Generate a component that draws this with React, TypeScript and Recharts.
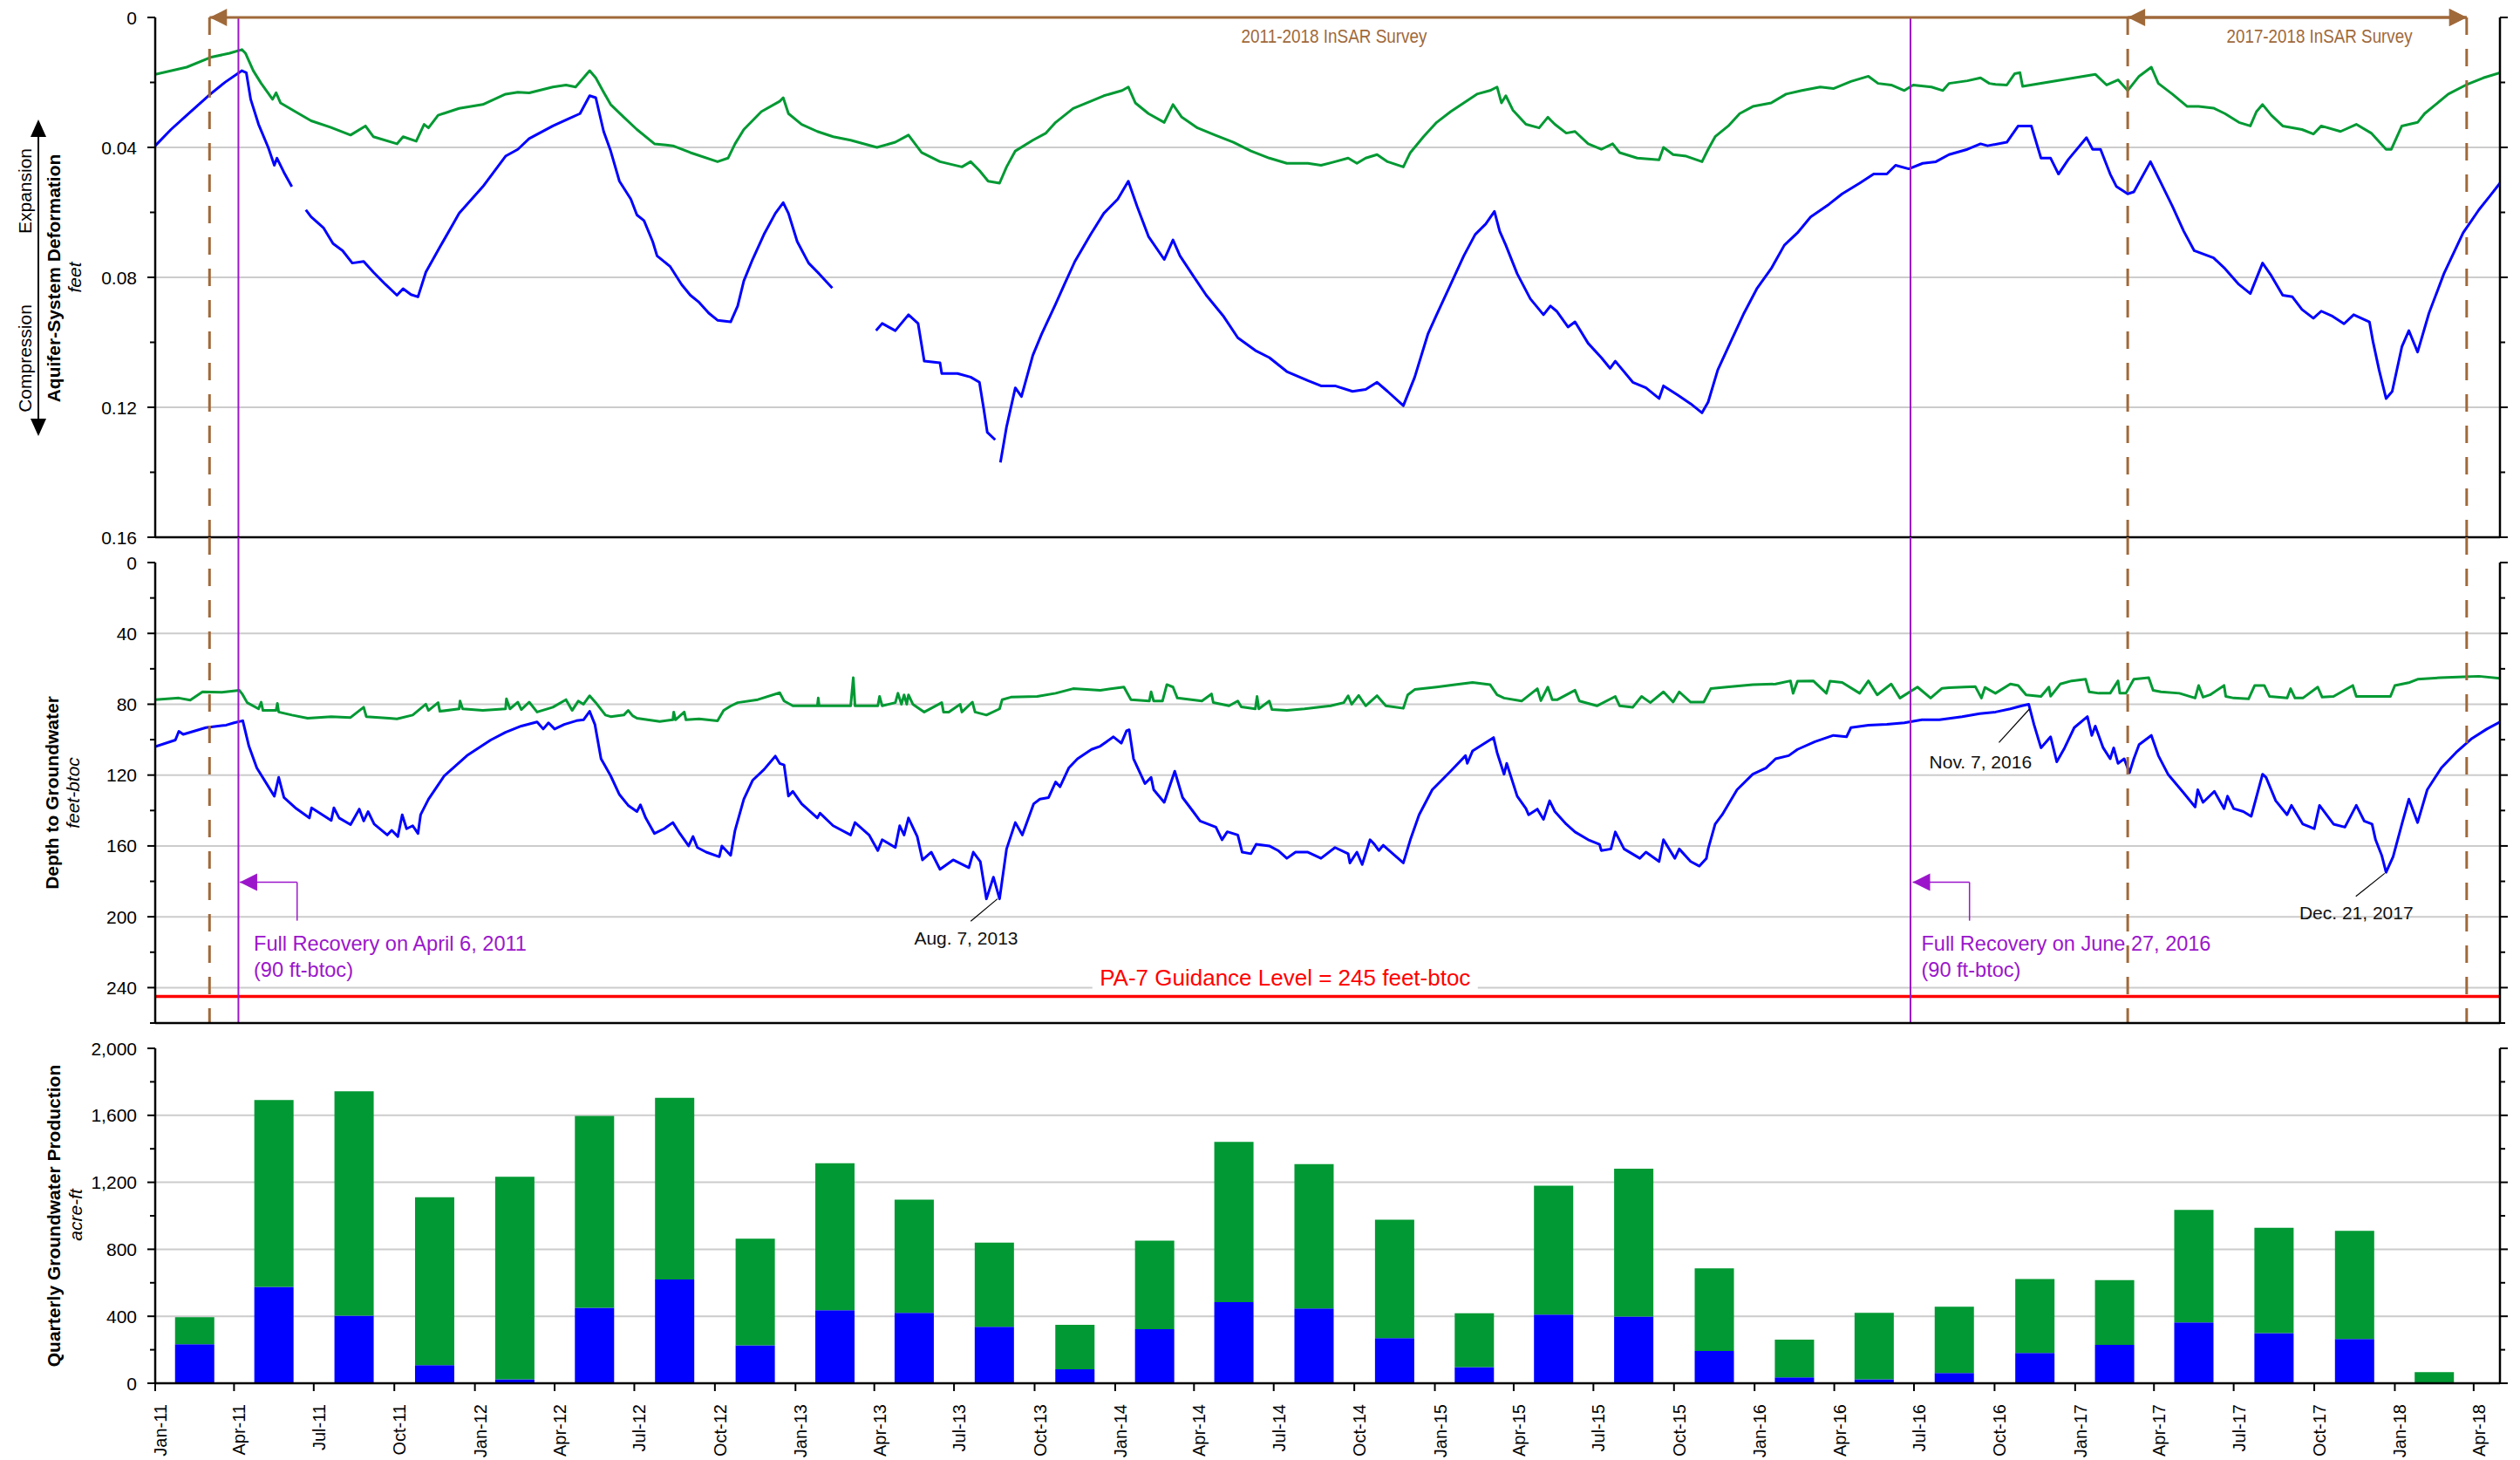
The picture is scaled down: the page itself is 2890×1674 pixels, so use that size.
import React from "react";
import {
  ComposedChart,
  Line,
  Bar,
  XAxis,
  YAxis,
  CartesianGrid,
  ReferenceLine,
  ReferenceDot,
} from "recharts";

// ---------- style constants ----------
const W = 2890;
const FONT = "'Liberation Sans', Arial, Helvetica, sans-serif";
const BLUE = "#0000FF";
const GREEN = "#009933";
const BROWN = "#A0693A";
const PURPLE = "#9B16CB";
const RED = "#FF0000";
const GRID = "#CCCCCC";
const AXIS_STYLE = { stroke: "#000", strokeWidth: 2.5 };
const TICKLINE = { stroke: "#000", strokeWidth: 2 };

// ---------- x axis (days since 1 Jan 2011) ----------
const quarterLabels = [
  "Jan-11", "Apr-11", "Jul-11", "Oct-11", "Jan-12", "Apr-12", "Jul-12", "Oct-12",
  "Jan-13", "Apr-13", "Jul-13", "Oct-13", "Jan-14", "Apr-14", "Jul-14", "Oct-14",
  "Jan-15", "Apr-15", "Jul-15", "Oct-15", "Jan-16", "Apr-16", "Jul-16", "Oct-16",
  "Jan-17", "Apr-17", "Jul-17", "Oct-17", "Jan-18", "Apr-18",
];
const MONTH_IDX: Record<string, number> = { Jan: 0, Apr: 3, Jul: 6, Oct: 9 };
const BASE = Date.UTC(2011, 0, 1);
const dayOfLabel = (lab: string) => {
  const [m, y] = lab.split("-");
  return Math.round((Date.UTC(2000 + Number(y), MONTH_IDX[m], 1) - BASE) / 86400000);
};
const dayOfDate = (iso: string) => {
  const [y, m, d] = iso.split("-").map(Number);
  return Math.round((Date.UTC(y, m - 1, d) - BASE) / 86400000);
};
const quarterTicks = quarterLabels.map(dayOfLabel);
const labelByDay = new Map<number, string>(quarterTicks.map((d, i) => [d, quarterLabels[i]]));
const X_DOMAIN: [number, number] = [0, 2677];

// event dates
const recoveryDates = ["2011-04-06", "2016-06-27"];
const surveyDates = ["2011-03-04", "2017-03-02", "2018-03-24"];

// ---------- Aquifer-system deformation (feet) [day, value] ----------
const defGreen: Array<[number, number | null]> = [
  [0, 0.0175], [36, 0.0153], [63, 0.0123], [85, 0.011], [99, 0.0099], [103, 0.011], [112, 0.0164],
  [121, 0.0203], [134, 0.0252], [138, 0.0232], [143, 0.0263], [160, 0.029], [178, 0.0318],
  [200, 0.0338], [223, 0.0362], [240, 0.0334], [249, 0.0367], [276, 0.0389], [283, 0.0367],
  [298, 0.0381], [307, 0.0329], [312, 0.034], [323, 0.0301], [347, 0.028], [374, 0.0268],
  [400, 0.0236], [414, 0.023], [427, 0.0232], [454, 0.0214], [469, 0.0208], [480, 0.0214],
  [496, 0.0164], [503, 0.0186], [512, 0.023], [520, 0.0268], [535, 0.0307], [550, 0.0345],
  [570, 0.0389], [591, 0.0395], [611, 0.0416], [642, 0.0444], [654, 0.0433], [662, 0.0389],
  [672, 0.0345], [692, 0.029], [713, 0.0258], [717, 0.0247], [723, 0.0296], [738, 0.0329],
  [756, 0.0351], [774, 0.0367], [794, 0.0378], [824, 0.04], [845, 0.0384], [860, 0.0362],
  [875, 0.0416], [896, 0.0444], [921, 0.046], [931, 0.0444], [941, 0.0471], [951, 0.0504],
  [964, 0.051], [972, 0.046], [982, 0.0411], [1002, 0.0378], [1017, 0.0356], [1028, 0.0323],
  [1048, 0.028], [1068, 0.0258], [1083, 0.0241], [1104, 0.0225], [1111, 0.0214], [1119, 0.0263],
  [1134, 0.0296], [1152, 0.0323], [1162, 0.0268], [1172, 0.0307], [1190, 0.034], [1210, 0.0362],
  [1231, 0.0384], [1251, 0.0411], [1272, 0.0433], [1292, 0.0449], [1316, 0.0449], [1331, 0.0455],
  [1347, 0.0444], [1362, 0.0433], [1372, 0.0449], [1382, 0.0433], [1395, 0.0422], [1407, 0.0444],
  [1425, 0.046], [1433, 0.0416], [1448, 0.0367], [1463, 0.0323], [1479, 0.029], [1494, 0.0263],
  [1509, 0.0236], [1524, 0.0225], [1532, 0.0214], [1537, 0.0263], [1542, 0.0241], [1550, 0.0285],
  [1565, 0.0329], [1580, 0.034], [1590, 0.0307], [1598, 0.0329], [1611, 0.0356], [1621, 0.0351],
  [1636, 0.0389], [1651, 0.0406], [1664, 0.0389], [1672, 0.0416], [1692, 0.0433], [1717, 0.0438],
  [1722, 0.04], [1733, 0.0422], [1748, 0.0427], [1766, 0.0444], [1773, 0.0406], [1781, 0.0367],
  [1796, 0.0334], [1809, 0.0296], [1824, 0.0274], [1845, 0.0263], [1862, 0.0236], [1880, 0.0225],
  [1901, 0.0214], [1916, 0.0219], [1936, 0.0197], [1956, 0.0181], [1967, 0.0203], [1982, 0.0208],
  [1997, 0.0225], [2007, 0.0208], [2028, 0.0214], [2041, 0.0225], [2048, 0.0203], [2069, 0.0195],
  [2084, 0.0186], [2094, 0.0203], [2101, 0.0206], [2114, 0.0208], [2123, 0.0173], [2129, 0.017],
  [2132, 0.0212], [2215, 0.0175], [2228, 0.0208], [2241, 0.0192], [2252, 0.0225], [2265, 0.0181],
  [2279, 0.0153], [2287, 0.0203], [2303, 0.0236], [2320, 0.0274], [2333, 0.0274], [2350, 0.0279],
  [2363, 0.0296], [2379, 0.0323], [2392, 0.0334], [2399, 0.029], [2406, 0.0268], [2416, 0.0301],
  [2429, 0.0334], [2451, 0.0345], [2464, 0.0359], [2473, 0.0334], [2495, 0.0351], [2513, 0.0329],
  [2530, 0.0356], [2547, 0.0406], [2553, 0.0406], [2565, 0.0334], [2583, 0.0323], [2591, 0.0296],
  [2618, 0.0236], [2638, 0.0208], [2658, 0.0186], [2677, 0.017],
];

const defBlue: Array<[number, number | null]> = [
  [0, 0.0395], [18, 0.0345], [36, 0.0301], [63, 0.0236], [80, 0.0199], [99, 0.0164], [104, 0.017],
  [109, 0.0252], [118, 0.0329], [129, 0.04], [136, 0.0455], [139, 0.0433], [147, 0.0477],
  [156, 0.0521], [163, null], [172, 0.0592], [178, 0.0614], [192, 0.0647], [203, 0.0696],
  [214, 0.0718], [225, 0.0756], [238, 0.0751], [249, 0.0784], [263, 0.0822], [276, 0.0855],
  [283, 0.0835], [292, 0.0853], [300, 0.086], [309, 0.0784], [325, 0.0707], [347, 0.0603],
  [374, 0.0521], [400, 0.0427], [414, 0.0406], [427, 0.0373], [454, 0.0334], [472, 0.0312],
  [485, 0.0296], [496, 0.0241], [503, 0.0247], [512, 0.0351], [520, 0.0411], [530, 0.0504],
  [543, 0.0559], [550, 0.0608], [558, 0.0625], [568, 0.069], [573, 0.0734], [588, 0.0767],
  [601, 0.0822], [611, 0.0855], [621, 0.0877], [632, 0.091], [642, 0.0932], [657, 0.0937],
  [665, 0.0888], [672, 0.0811], [682, 0.0745], [695, 0.0668], [708, 0.0603], [717, 0.057],
  [723, 0.0603], [733, 0.069], [746, 0.0756], [758, 0.0789], [773, 0.0833], [798, null],
  [823, 0.0964], [830, 0.0942], [845, 0.0964], [860, 0.0915], [871, 0.0942], [878, 0.1058],
  [896, 0.1063], [898, 0.1096], [916, 0.1096], [931, 0.1107], [941, 0.1123], [946, 0.1206],
  [950, 0.1277], [959, 0.13], [962, null], [965, 0.137], [972, 0.126], [982, 0.114], [989, 0.1167],
  [1002, 0.104], [1012, 0.0975], [1028, 0.0882], [1038, 0.0822], [1050, 0.0751], [1068, 0.0668],
  [1083, 0.0603], [1099, 0.0559], [1111, 0.0504], [1121, 0.0581], [1134, 0.0674], [1152, 0.0745],
  [1162, 0.0685], [1170, 0.0734], [1185, 0.0795], [1200, 0.0855], [1220, 0.0921], [1236, 0.0986],
  [1256, 0.1025], [1272, 0.1047], [1292, 0.109], [1316, 0.1118], [1331, 0.1134], [1347, 0.1134],
  [1367, 0.1151], [1382, 0.1145], [1395, 0.1123], [1407, 0.1151], [1425, 0.1195], [1438, 0.1107],
  [1453, 0.0975], [1463, 0.0915], [1479, 0.0822], [1494, 0.0734], [1507, 0.0668], [1519, 0.0636],
  [1529, 0.0597], [1535, 0.0658], [1542, 0.0701], [1555, 0.0789], [1570, 0.0866], [1585, 0.0915],
  [1593, 0.0888], [1600, 0.0904], [1613, 0.0953], [1621, 0.0937], [1636, 0.1003], [1651, 0.1047],
  [1661, 0.108], [1667, 0.1058], [1687, 0.1123], [1702, 0.114], [1717, 0.1173], [1722, 0.1134],
  [1738, 0.1162], [1753, 0.1189], [1766, 0.1217], [1773, 0.1184], [1784, 0.1085], [1799, 0.0997],
  [1814, 0.091], [1829, 0.0833], [1845, 0.0773], [1860, 0.0701], [1875, 0.0663], [1890, 0.0614],
  [1911, 0.0575], [1926, 0.0543], [1946, 0.051], [1962, 0.0482], [1977, 0.0482], [1987, 0.0455],
  [2002, 0.0466], [2018, 0.0449], [2033, 0.0444], [2048, 0.0422], [2069, 0.0406], [2084, 0.0389],
  [2092, 0.0395], [2114, 0.0384], [2127, 0.0334], [2142, 0.0334], [2153, 0.0433], [2164, 0.0433],
  [2173, 0.0482], [2184, 0.0438], [2205, 0.037], [2212, 0.0406], [2221, 0.0406], [2232, 0.0482],
  [2239, 0.052], [2252, 0.0543], [2259, 0.0537], [2278, 0.0444], [2287, 0.0493], [2303, 0.0581],
  [2316, 0.0658], [2328, 0.0718], [2350, 0.074], [2363, 0.0773], [2379, 0.0822], [2392, 0.085],
  [2406, 0.0756], [2416, 0.0795], [2429, 0.0855], [2440, 0.086], [2451, 0.0899], [2464, 0.0926],
  [2473, 0.0904], [2486, 0.092], [2499, 0.0943], [2510, 0.0915], [2528, 0.0937], [2532, 0.0997],
  [2539, 0.1085], [2547, 0.1173], [2554, 0.1151], [2565, 0.1014], [2573, 0.0964], [2583, 0.103],
  [2596, 0.091], [2613, 0.0789], [2635, 0.0663], [2653, 0.0592], [2666, 0.0548], [2677, 0.051],
];

// ---------- Depth to groundwater (feet-btoc) [day, value] ----------
const depthGreen: Array<[number, number | null]> = [
  [0, 77.4], [27, 76.5], [40, 77.7], [54, 73], [76, 73.3], [96, 72.1], [100, 74.7], [105, 79.1],
  [118, 82.6], [121, 78.8], [123, 83.5], [138, 83.5], [139.5, 79.5], [141, 84.4], [156, 86.1],
  [174, 87.9], [201, 87], [223, 87.5], [238, 81.7], [241, 87], [267, 87.9], [276, 88.3], [294, 86.1],
  [309, 80], [312, 83.5], [323, 79.1], [325, 84], [347, 82.6], [348, 78.2], [351, 82.6], [374, 83.5],
  [400, 82.6], [401, 77], [405, 82.6], [414, 78.8], [418, 83], [427, 78.8], [436, 84.4], [454, 81.7],
  [469, 77.4], [476, 83.5], [483, 78.2], [489, 80], [496, 75.2], [503, 79.1], [514, 86.1], [520, 87],
  [535, 86.1], [540, 83.5], [545, 86.5], [550, 87.9], [576, 89.7], [591, 88.8], [592, 84.4],
  [594, 88.8], [604, 84.4], [606, 88.8], [621, 88.3], [642, 89.4], [649, 83.5], [657, 81],
  [665, 79.1], [688, 77.4], [713, 73.5], [718, 78.2], [728, 80.9], [756, 80.9], [757, 76.5],
  [758, 80.9], [794, 80.9], [797, 65], [799, 80.9], [825, 80.9], [827, 75.6], [830, 80.9],
  [845, 79.1], [848, 73.8], [852, 80], [855, 74.7], [858, 80], [860, 74.7], [865, 80], [870, 81.7],
  [878, 84.4], [898, 79.1], [900, 84.4], [906, 84.4], [919, 80], [921, 84.4], [933, 78.8],
  [936, 84.4], [949, 86.1], [964, 82.6], [967, 77.4], [977, 76], [1007, 75.6], [1028, 73.8],
  [1048, 71.2], [1079, 72.1], [1106, 70.3], [1114, 77.4], [1135, 78.2], [1137, 73], [1140, 78.2],
  [1150, 78.2], [1155, 68.9], [1162, 70.3], [1167, 76.5], [1195, 78.2], [1206, 74.2], [1208, 79],
  [1226, 80.9], [1236, 78.2], [1240, 81.5], [1256, 82.6], [1258, 75.6], [1260, 82.6], [1272, 78.2],
  [1275, 83], [1292, 83.5], [1312, 82.6], [1342, 80.9], [1357, 79.1], [1362, 75.2], [1366, 80],
  [1374, 75], [1382, 80.9], [1395, 75.2], [1405, 80.9], [1425, 82.3], [1430, 74.7], [1438, 71.7],
  [1463, 70.3], [1484, 68.9], [1504, 67.7], [1524, 68.9], [1532, 74.7], [1540, 76.5], [1560, 78.2],
  [1578, 71.2], [1582, 78], [1590, 70.3], [1595, 77.4], [1601, 77.4], [1621, 72.1], [1626, 78.2],
  [1646, 80.9], [1667, 75.6], [1672, 80.9], [1687, 81.7], [1697, 75.6], [1707, 79.1], [1722, 73],
  [1733, 78.8], [1740, 73], [1753, 78.8], [1768, 78.8], [1776, 71.2], [1794, 70.3], [1824, 68.9],
  [1850, 68.6], [1867, 66.8], [1870, 73.8], [1875, 67], [1893, 66.8], [1908, 73.8], [1912, 67],
  [1926, 67.7], [1946, 73.8], [1956, 66.8], [1966, 74.7], [1982, 68.6], [1992, 76.5], [2012, 70.3],
  [2027, 76.5], [2040, 71], [2048, 70.7], [2065, 70.3], [2078, 70], [2085, 76.5], [2089, 70.5],
  [2101, 73.8], [2118, 68.6], [2127, 69.4], [2136, 74.7], [2153, 75.6], [2162, 70.3], [2164, 75.5],
  [2175, 68.6], [2188, 66.8], [2204, 65.9], [2208, 73], [2219, 73.8], [2232, 73.8], [2241, 66.8],
  [2243, 73.8], [2250, 73.8], [2259, 65.9], [2276, 65], [2281, 72.1], [2290, 73], [2311, 73.8],
  [2329, 76.5], [2333, 69.4], [2338, 76], [2346, 74.7], [2362, 69.4], [2364, 75.6], [2373, 76.5],
  [2390, 77], [2397, 69.4], [2408, 69.4], [2414, 75.6], [2434, 76.5], [2438, 71.2], [2443, 76.5],
  [2452, 76.5], [2469, 70.3], [2474, 76], [2487, 75.6], [2509, 69.4], [2513, 75.6], [2522, 75.6],
  [2539, 75.6], [2552, 75.6], [2557, 69.4], [2574, 67.7], [2583, 65.9], [2609, 65], [2636, 64.5],
  [2653, 64.2], [2677, 65.4],
];

const depthBlue: Array<[number, number | null]> = [
  [0, 104], [23, 100.2], [27, 95.3], [32, 97], [58, 93.2], [81, 91.8], [90, 90.5], [100, 89.3],
  [107, 103.7], [116, 116], [136, 131.9], [141, 121.3], [147, 132.7], [161, 138.9], [176, 144.2],
  [178.5, 138.5], [201, 145.6], [204, 138.5], [210, 144.2], [223, 148], [233, 139.2], [238, 145.9],
  [243, 140.6], [250, 147.7], [265, 153.8], [270, 151.2], [277, 154.7], [282, 142.4], [287, 150.3],
  [294, 148.6], [300, 153], [303, 142.4], [312, 133.6], [330, 120.4], [356, 109], [383, 100.2],
  [400, 95.8], [418, 92.3], [436, 90], [443, 94], [449, 90.5], [456, 94], [467, 91.4], [481, 89.3],
  [489, 88.8], [496, 84], [502, 91.4], [509, 110.8], [512, 113.4], [520, 120.4], [530, 131],
  [540, 137.1], [550, 140.6], [554, 136.8], [560, 144.2], [570, 153], [581, 150.3], [591, 146.8],
  [599, 153], [609, 160], [614, 154.7], [619, 160.9], [629, 163.5], [644, 166.1], [647, 160],
  [657, 165.3], [662, 151.2], [672, 133.6], [682, 123], [695, 116.9], [708, 109.3], [713, 113.4],
  [718, 114.3], [723, 131.9], [728, 129.2], [738, 136.2], [756, 144.2], [759, 141.5], [774, 148.6],
  [794, 153.8], [799, 146.8], [815, 153.8], [825, 162.6], [830, 156.5], [845, 160.9], [850, 148.6],
  [855, 153.8], [860, 144.2], [870, 154.7], [876, 167.9], [886, 163.5], [896, 173.2], [911, 167.9],
  [929, 172.3], [934, 163.5], [942, 168.8], [949, 189.9], [957, 177.6], [964, 189.9], [972, 161.7],
  [982, 146.8], [990, 153.8], [1003, 136.2], [1010, 133.6], [1020, 132.7], [1028, 123.9],
  [1033, 126.6], [1043, 116], [1053, 110.8], [1069, 105.5], [1079, 103.7], [1094, 98.4],
  [1103, 102], [1109, 95], [1112, 94.4], [1117, 110.8], [1130, 124.8], [1137, 121.3], [1140, 128.3],
  [1152, 135.4], [1164, 117.8], [1173, 132.7], [1185, 140.6], [1193, 145.9], [1211, 149.4],
  [1218, 156.5], [1224, 152], [1236, 153.8], [1241, 163.5], [1251, 164.4], [1257, 159.1],
  [1272, 160], [1282, 162.6], [1292, 167], [1302, 163.5], [1316, 163.5], [1331, 167], [1347, 160.9],
  [1362, 164.4], [1364, 169.6], [1372, 163.5], [1378, 170.5], [1387, 156.5], [1392, 159.1],
  [1397, 162.6], [1402, 159.6], [1413, 164.4], [1425, 169.6], [1433, 156.5], [1443, 142.4],
  [1458, 128.3], [1479, 117.8], [1496, 109], [1498, 113.4], [1504, 106.4], [1528, 98.8],
  [1532, 107.2], [1540, 119.5], [1543, 113.4], [1555, 131.9], [1565, 138.9], [1568, 142.4],
  [1578, 139.2], [1585, 145], [1592, 134.5], [1598, 140.6], [1611, 147.7], [1621, 152.1],
  [1636, 156.5], [1649, 159.1], [1651, 162.6], [1662, 161.7], [1667, 152.1], [1677, 161.7],
  [1695, 167], [1702, 163.5], [1717, 168.8], [1722, 156.5], [1735, 167], [1740, 161.7],
  [1753, 168.8], [1763, 171.4], [1771, 167], [1773, 161.7], [1781, 147.7], [1789, 142.4],
  [1806, 128.3], [1824, 119.5], [1839, 116], [1850, 110.8], [1865, 109], [1875, 105.5],
  [1895, 101.1], [1916, 97.6], [1931, 98.4], [1936, 93.2], [1956, 91.8], [1977, 91.4], [1997, 90.5],
  [2017, 88.8], [2037, 88.8], [2063, 87], [2083, 85.3], [2101, 84.4], [2118, 82.6], [2131, 80.9],
  [2139, 80], [2145, 91.4], [2153, 104.6], [2164, 98.4], [2171, 112.5], [2180, 104.6], [2191, 93.2],
  [2206, 87], [2211, 97.6], [2215, 92.3], [2224, 104.6], [2232, 110.8], [2236, 104.6], [2241, 113.4],
  [2248, 110.8], [2254, 118.7], [2259, 110.8], [2265, 102.8], [2279, 97.6], [2287, 109],
  [2298, 119.5], [2316, 130.1], [2329, 138], [2332, 128.3], [2338, 135.4], [2351, 129.2],
  [2362, 138.9], [2366, 131.9], [2373, 138.9], [2384, 140.6], [2393, 143.3], [2406, 119.5],
  [2410, 121.3], [2421, 134.5], [2434, 142.4], [2439, 137.1], [2452, 147.7], [2465, 150.3],
  [2471, 137.1], [2487, 147.7], [2500, 149.4], [2513, 137.1], [2522, 145.9], [2531, 147.7],
  [2535, 156.5], [2542, 165.3], [2547, 174.9], [2555, 166.1], [2566, 145.9], [2573, 133.6],
  [2583, 146.8], [2594, 128.3], [2610, 116], [2627, 107.2], [2645, 99.3], [2662, 94], [2677, 90],
];

// ---------- Quarterly groundwater production (acre-ft) ----------
// quarters Q1-2011 ... Q1-2018 (bar i spans quarterLabels[i] .. quarterLabels[i+1])
const prodTotal = [
  394, 1691, 1743, 1111, 1233, 1597, 1705, 863, 1314, 1097, 840, 349, 852, 1441, 1309,
  977, 418, 1180, 1281, 686, 260, 420, 457, 623, 616, 1035, 929, 910, 66,
];
const prodBlue = [
  233, 576, 403, 108, 24, 451, 620, 226, 436, 420, 337, 83, 323, 484, 446,
  269, 97, 410, 399, 193, 35, 23, 61, 181, 229, 363, 299, 264, 2,
];

// ---------- axis ticks ----------
const defMajors = [0, 0.04, 0.08, 0.12, 0.16];
const defTicks = [0, 0.02, 0.04, 0.06, 0.08, 0.1, 0.12, 0.14, 0.16];
const depthMajors = [0, 40, 80, 120, 160, 200, 240];
const depthTicks = [0, 20, 40, 60, 80, 100, 120, 140, 160, 180, 200, 220, 240, 260];
const prodMajors = [0, 400, 800, 1200, 1600, 2000];
const prodTicks = [0, 200, 400, 600, 800, 1000, 1200, 1400, 1600, 1800, 2000];

// ---------- helpers ----------
const toPts = (arr: Array<[number, number | null]>) => arr.map(([d, v]) => ({ d, v }));
const barData = prodTotal.map((t, i) => ({
  d: (quarterTicks[i] + quarterTicks[i + 1]) / 2,
  blue: prodBlue[i],
  green: t - prodBlue[i],
}));

function makeYTick(side: "left" | "right", majors: number[], fmt: (v: number) => string) {
  return (p: any) => {
    const v = Number(p?.payload?.value);
    const major = majors.some((m) => Math.abs(m - v) < 1e-9);
    const len = major ? 9 : 6;
    const dir = side === "left" ? -1 : 1;
    return (
      <g>
        <line x1={p.x} y1={p.y} x2={p.x + dir * len} y2={p.y} stroke="#000" strokeWidth={2} />
        {side === "left" && major ? (
          <text x={p.x - 21} y={p.y} dy="0.36em" textAnchor="end" fontSize={21} fontFamily={FONT} fill="#000">
            {fmt(v)}
          </text>
        ) : null}
      </g>
    );
  };
}

const XLabelTick = (p: any) => {
  const lab = labelByDay.get(Number(p?.payload?.value)) ?? "";
  return (
    <text
      transform={`translate(${p.x},${p.y}) rotate(-90)`}
      textAnchor="end"
      dy={13}
      fontSize={20}
      fontFamily={FONT}
      fill="#000"
    >
      {lab}
    </text>
  );
};

const arrowShape =
  (startHead: boolean, endHead: boolean, color: string, w: number, len = 20, half = 10) =>
  (p: any) => {
    const { x1, y1, x2, y2 } = p;
    const dx = x2 - x1;
    const dy = y2 - y1;
    const L = Math.hypot(dx, dy) || 1;
    const ux = dx / L;
    const uy = dy / L;
    const nx = -uy;
    const ny = ux;
    const head = (tx: number, ty: number, dirx: number, diry: number) => {
      const bx = tx - dirx * len;
      const by = ty - diry * len;
      return `${tx},${ty} ${bx + nx * half},${by + ny * half} ${bx - nx * half},${by - ny * half}`;
    };
    return (
      <g>
        <line x1={x1} y1={y1} x2={x2} y2={y2} stroke={color} strokeWidth={w} />
        {startHead ? <polygon points={head(x1, y1, -ux, -uy)} fill={color} /> : null}
        {endHead ? <polygon points={head(x2, y2, ux, uy)} fill={color} /> : null}
      </g>
    );
  };

const textShape =
  (txt: string, color: string, size: number, anchor: "start" | "middle" | "end", textLength?: number) =>
  (p: any) => (
    <text
      x={p.cx}
      y={p.cy}
      fill={color}
      fontSize={size}
      fontFamily={FONT}
      textAnchor={anchor}
      textLength={textLength}
      lengthAdjust={textLength ? "spacingAndGlyphs" : undefined}
    >
      {txt}
    </text>
  );

const fmtDef = (v: number) => (v === 0 ? "0" : v.toFixed(2));
const fmtInt = (v: number) => v.toLocaleString("en-US");

const recDays = recoveryDates.map(dayOfDate);
const survDays = surveyDates.map(dayOfDate);

// ---------- panels ----------
function DeformationPanel() {
  return (
    <ComposedChart width={W} height={645} margin={{ top: 20, right: 0, bottom: 0, left: 0 }}>
      <CartesianGrid vertical={false} horizontalValues={[0.04, 0.08, 0.12]} stroke={GRID} strokeWidth={2} />
      <XAxis type="number" dataKey="d" domain={X_DOMAIN} allowDataOverflow ticks={quarterTicks} interval={0}
        height={29} tickSize={9} tick={false} tickLine={TICKLINE} axisLine={AXIS_STYLE} />
      <XAxis xAxisId="top" orientation="top" type="number" dataKey="d" domain={X_DOMAIN} allowDataOverflow
        height={0} tick={false} tickLine={false} axisLine={AXIS_STYLE} />
      <YAxis type="number" domain={[0, 0.16]} reversed allowDataOverflow ticks={defTicks} interval={0} width={178}
        tickLine={false} tickSize={0} tickMargin={0} axisLine={AXIS_STYLE} tick={makeYTick("left", defMajors, fmtDef)} />
      <YAxis yAxisId="r" orientation="right" type="number" domain={[0, 0.16]} reversed allowDataOverflow ticks={defTicks}
        interval={0} width={23} tickLine={false} tickSize={0} tickMargin={0} axisLine={AXIS_STYLE}
        tick={makeYTick("right", defMajors, fmtDef)} />

      <Line data={toPts(defGreen)} dataKey="v" type="linear" stroke={GREEN} strokeWidth={3} dot={false}
        isAnimationActive={false} strokeLinejoin="round" />
      <Line data={toPts(defBlue)} dataKey="v" type="linear" stroke={BLUE} strokeWidth={3} dot={false}
        isAnimationActive={false} strokeLinejoin="round" />

      {recDays.map((d) => (
        <ReferenceLine key={"rp" + d} x={d} stroke={PURPLE} strokeWidth={2} ifOverflow="visible" />
      ))}
      {survDays.map((d) => (
        <ReferenceLine key={"sb" + d} x={d} stroke={BROWN} strokeWidth={3} strokeDasharray="20 16" ifOverflow="visible" />
      ))}
      <ReferenceLine segment={[{ x: survDays[0], y: 0 }, { x: survDays[2], y: 0 }]} ifOverflow="visible"
        shape={arrowShape(true, true, BROWN, 3)} />
      <ReferenceLine segment={[{ x: survDays[1], y: 0 }, { x: survDays[2], y: 0 }]} ifOverflow="visible"
        shape={arrowShape(true, true, BROWN, 3)} />
      <ReferenceDot x={1346} y={0.0077} ifOverflow="visible" shape={textShape("2011-2018 InSAR Survey", BROWN, 22, "middle", 213)} />
      <ReferenceDot x={2471} y={0.0077} ifOverflow="visible" shape={textShape("2017-2018 InSAR Survey", BROWN, 22, "middle", 213)} />
    </ComposedChart>
  );
}

const M_TOP = -14.28; // value at the top of the middle chart svg (gap above the plot)

function DepthPanel() {
  return (
    <ComposedChart width={W} height={584} margin={{ top: 29, right: 0, bottom: 0, left: 0 }}>
      <CartesianGrid vertical={false} horizontalValues={[40, 80, 120, 160, 200, 240]} stroke={GRID} strokeWidth={2} />
      <XAxis type="number" dataKey="d" domain={X_DOMAIN} allowDataOverflow ticks={quarterTicks} interval={0}
        height={27} tickSize={9} tick={false} tickLine={TICKLINE} axisLine={AXIS_STYLE} />
      <XAxis xAxisId="top" orientation="top" type="number" dataKey="d" domain={X_DOMAIN} allowDataOverflow
        height={0} tick={false} tickLine={false} axisLine={AXIS_STYLE} />
      <YAxis type="number" domain={[0, 260]} reversed allowDataOverflow ticks={depthTicks} interval={0} width={178}
        tickLine={false} tickSize={0} tickMargin={0} axisLine={AXIS_STYLE} tick={makeYTick("left", depthMajors, fmtInt)} />
      <YAxis yAxisId="r" orientation="right" type="number" domain={[0, 260]} reversed allowDataOverflow ticks={depthTicks}
        interval={0} width={23} tickLine={false} tickSize={0} tickMargin={0} axisLine={AXIS_STYLE}
        tick={makeYTick("right", depthMajors, fmtInt)} />

      <ReferenceDot x={1290} y={238.8} ifOverflow="visible"
        shape={(p: any) => (
          <g>
            <rect x={p.cx - 221} y={p.cy - 26} width={442} height={31} fill="#fff" />
            <text x={p.cx} y={p.cy} fill={RED} fontSize={26} fontFamily={FONT} textAnchor="middle">
              PA-7 Guidance Level = 245 feet-btoc
            </text>
          </g>
        )} />
      <ReferenceLine y={245} stroke={RED} strokeWidth={3.5} ifOverflow="visible" />

      <Line data={toPts(depthGreen)} dataKey="v" type="linear" stroke={GREEN} strokeWidth={3} dot={false}
        isAnimationActive={false} strokeLinejoin="round" />
      <Line data={toPts(depthBlue)} dataKey="v" type="linear" stroke={BLUE} strokeWidth={3} dot={false}
        isAnimationActive={false} strokeLinejoin="round" />

      {recDays.map((d) => (
        <ReferenceLine key={"rp" + d} segment={[{ x: d, y: M_TOP }, { x: d, y: 260 }]} stroke={PURPLE}
          strokeWidth={2} ifOverflow="visible" />
      ))}
      {survDays.map((d) => (
        <ReferenceLine key={"sb" + d} segment={[{ x: d, y: M_TOP }, { x: d, y: 260 }]} stroke={BROWN}
          strokeWidth={3} strokeDasharray="20 16" ifOverflow="visible" />
      ))}

      {/* full recovery call-outs */}
      <ReferenceLine segment={[{ x: recDays[0] + 1.5, y: 180.5 }, { x: 162, y: 180.5 }]} ifOverflow="visible"
        shape={arrowShape(true, false, PURPLE, 1.5)} />
      <ReferenceLine segment={[{ x: 162, y: 180.5 }, { x: 162, y: 202.2 }]} stroke={PURPLE} strokeWidth={1.5} ifOverflow="visible" />
      <ReferenceDot x={112.5} y={218.9} ifOverflow="visible" shape={textShape("Full Recovery on April 6, 2011", PURPLE, 24, "start", 313)} />
      <ReferenceDot x={112.5} y={233.8} ifOverflow="visible" shape={textShape("(90 ft-btoc)", PURPLE, 24, "start", 114)} />

      <ReferenceLine segment={[{ x: recDays[1] + 2.5, y: 180.5 }, { x: 2071.4, y: 180.5 }]} ifOverflow="visible"
        shape={arrowShape(true, false, PURPLE, 1.5)} />
      <ReferenceLine segment={[{ x: 2071.4, y: 180.5 }, { x: 2071.4, y: 202.2 }]} stroke={PURPLE} strokeWidth={1.5} ifOverflow="visible" />
      <ReferenceDot x={2016.4} y={218.9} ifOverflow="visible" shape={textShape("Full Recovery on June 27, 2016", PURPLE, 24, "start", 332)} />
      <ReferenceDot x={2016.4} y={233.8} ifOverflow="visible" shape={textShape("(90 ft-btoc)", PURPLE, 24, "start", 114)} />

      {/* date call-outs */}
      <ReferenceLine segment={[{ x: 931.1, y: 202.5 }, { x: 961.6, y: 189.9 }]} stroke="#000" strokeWidth={1.2} ifOverflow="visible" />
      <ReferenceDot x={925.8} y={215.9} ifOverflow="visible" shape={textShape("Aug. 7, 2013", "#111", 21, "middle")} />
      <ReferenceLine segment={[{ x: 2105, y: 101.6 }, { x: 2140, y: 82.6 }]} stroke="#000" strokeWidth={1.2} ifOverflow="visible" />
      <ReferenceDot x={2084} y={116.4} ifOverflow="visible" shape={textShape("Nov. 7, 2016", "#111", 21, "middle")} />
      <ReferenceLine segment={[{ x: 2512.5, y: 188.5 }, { x: 2545.4, y: 175.5 }]} stroke="#000" strokeWidth={1.2} ifOverflow="visible" />
      <ReferenceDot x={2513} y={201.3} ifOverflow="visible" shape={textShape("Dec. 21, 2017", "#111", 21, "middle")} />
    </ComposedChart>
  );
}

function ProductionPanel() {
  return (
    <ComposedChart width={W} height={501} data={barData} margin={{ top: 29, right: 0, bottom: 0, left: 0 }}>
      <CartesianGrid vertical={false} horizontalValues={[400, 800, 1200, 1600]} stroke={GRID} strokeWidth={2} />
      <XAxis type="number" dataKey="d" domain={X_DOMAIN} allowDataOverflow ticks={quarterTicks} interval={0}
        height={88} tickSize={9} tickMargin={15} tick={<XLabelTick />} tickLine={TICKLINE} axisLine={AXIS_STYLE} />
      <XAxis xAxisId="top" orientation="top" type="number" dataKey="d" domain={X_DOMAIN} allowDataOverflow
        height={0} tick={false} tickLine={false} axisLine={AXIS_STYLE} />
      <YAxis type="number" domain={[0, 2000]} allowDataOverflow ticks={prodTicks} interval={0} width={178}
        tickLine={false} tickSize={0} tickMargin={0} axisLine={AXIS_STYLE} tick={makeYTick("left", prodMajors, fmtInt)} />
      <YAxis yAxisId="r" orientation="right" type="number" domain={[0, 2000]} allowDataOverflow ticks={prodTicks}
        interval={0} width={23} tickLine={false} tickSize={0} tickMargin={0} axisLine={AXIS_STYLE}
        tick={makeYTick("right", prodMajors, fmtInt)} />
      <Bar dataKey="blue" stackId="q" fill={BLUE} barSize={45} isAnimationActive={false} />
      <Bar dataKey="green" stackId="q" fill={GREEN} barSize={45} isAnimationActive={false} />
    </ComposedChart>
  );
}

const VText = ({ cx, cy, children, style }: { cx: number; cy: number; children: React.ReactNode; style?: React.CSSProperties }) => (
  <div
    style={{
      position: "absolute",
      left: cx,
      top: cy,
      transform: "translate(-50%,-50%) rotate(-90deg)",
      whiteSpace: "nowrap",
      lineHeight: 1,
      fontFamily: FONT,
      color: "#000",
      fontSize: 21,
      ...style,
    }}
  >
    {children}
  </div>
);

export default function App() {
  return (
    <div style={{ position: "absolute", left: 0, top: 0, width: W, height: 1674, background: "#fff", overflow: "hidden" }}>
      <div style={{ position: "absolute", left: 0, top: 0 }}>
        <DeformationPanel />
      </div>
      <div style={{ position: "absolute", left: 0, top: 616 }}>
        <DepthPanel />
      </div>
      <div style={{ position: "absolute", left: 0, top: 1173 }}>
        <ProductionPanel />
      </div>

      {/* axis titles */}
      <VText cx={28} cy={219}>Expansion</VText>
      <VText cx={28} cy={411}>Compression</VText>
      <svg style={{ position: "absolute", left: 30, top: 130 }} width={28} height={380}>
        <line x1={14} y1={22} x2={14} y2={355} stroke="#000" strokeWidth={2} />
        <polygon points="14,7 5,27 23,27" fill="#000" />
        <polygon points="14,370 5,350 23,350" fill="#000" />
      </svg>
      <VText cx={61} cy={319} style={{ fontWeight: 700 }}>Aquifer-System Deformation</VText>
      <VText cx={85} cy={318} style={{ fontStyle: "italic" }}>feet</VText>

      <VText cx={59} cy={909} style={{ fontWeight: 700 }}>Depth to Groundwater</VText>
      <VText cx={83} cy={909} style={{ fontStyle: "italic" }}>feet-btoc</VText>

      <VText cx={61} cy={1394} style={{ fontWeight: 700 }}>Quarterly Groundwater Production</VText>
      <VText cx={86} cy={1393} style={{ fontStyle: "italic" }}>acre-ft</VText>
    </div>
  );
}
